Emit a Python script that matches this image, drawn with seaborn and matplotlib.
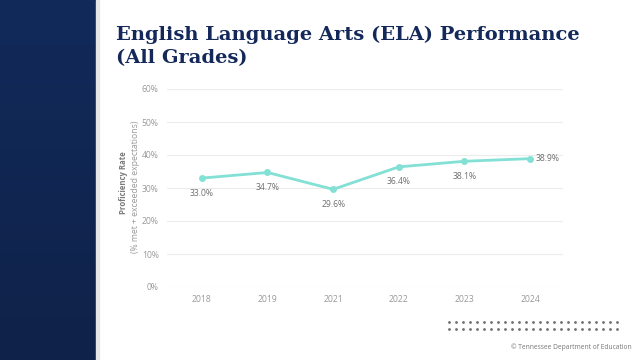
import numpy as np
import pandas as pd
import seaborn as sns
import matplotlib.pyplot as plt
from matplotlib.patches import Rectangle

# chart values
years = ["2018", "2019", "2021", "2022", "2023", "2024"]
rates = [33.0, 34.7, 29.6, 36.4, 38.1, 38.9]
label_side = ["below", "below", "below", "below", "below", "right"]
yticks = [0, 10, 20, 30, 40, 50, 60]

df = pd.DataFrame({"year": years, "rate": rates})

sns.set_theme(style="white")
plt.rcParams["font.family"] = ["Open Sans", "DejaVu Sans"]

fig = plt.figure(figsize=(6.4, 3.6), dpi=100)
fig.patch.set_facecolor("white")

# navy band on the left, slightly darker toward the bottom
bg = fig.add_axes([0, 0, 96 / 640, 1])
grad = np.linspace(0, 1, 256).reshape(-1, 1)
bg.imshow(grad, aspect="auto", extent=[0, 1, 0, 1], origin="upper",
          cmap=plt.matplotlib.colors.LinearSegmentedColormap.from_list(
              "navy", ["#122a5a", "#0f2249"]))
bg.set_axis_off()
fig.patches.append(Rectangle((96 / 640, 0), 3 / 640, 1, transform=fig.transFigure,
                             color="#e6e6e6", zorder=0))

# title
fig.text(116 / 640, 1 - 63 / 360, "English Language Arts (ELA) Performance\n(All Grades)",
         family="DejaVu Serif", weight="bold", fontsize=14, color="#14295a",
         ha="left", va="baseline", linespacing=1.38)

ax = fig.add_axes([167 / 640, 1 - 287 / 360, (563 - 167) / 640, (287 - 89) / 360])
sns.lineplot(data=df, x="year", y="rate", ax=ax, color="#82e0d4", linewidth=2,
             marker="o", markersize=5, markeredgewidth=0, sort=False)

for i, (v, side) in enumerate(zip(rates, label_side)):
    if side == "below":
        ax.annotate(f"{v:.1f}%", (i, v), xytext=(0, -7.5), textcoords="offset points",
                    ha="center", va="top", fontsize=6.2, color="#707070")
    else:
        ax.annotate(f"{v:.1f}%", (i, v), xytext=(4, 0), textcoords="offset points",
                    ha="left", va="center", fontsize=6.2, color="#707070")

ax.set_ylim(0, 60)
ax.set_xlim(-0.53, 5.5)
ax.set_yticks(yticks)
ax.set_yticklabels([f"{t}%" for t in yticks])
ax.grid(axis="y", color="#ececec", linewidth=0.8)
ax.grid(axis="x", visible=False)
for s in ax.spines.values():
    s.set_visible(False)
ax.tick_params(axis="both", length=0, labelsize=6.2, labelcolor="#999999", pad=6)
ax.set_xlabel("")
ax.set_ylabel("")

fig.text(124 / 640, 1 - 183 / 360, "Proficiency Rate", rotation=90, fontsize=5.6,
         weight="bold", color="#7a7a7a", ha="center", va="center")
fig.text(136 / 640, 1 - 187 / 360, "(% met + exceeded expectations)", rotation=90,
         fontsize=6.2, color="#9a9a9a", ha="center", va="center")

# dotted decoration
for yy in (322, 329):
    xs = np.linspace(449, 617, 25) / 640
    fig.lines.append(plt.Line2D(xs, [1 - yy / 360] * len(xs), transform=fig.transFigure,
                                linestyle="none", marker="o", markersize=1.0,
                                color="#707070"))

fig.text(632 / 640, 1 - 347 / 360, "© Tennessee Department of Education", fontsize=4.8,
         color="#777777", ha="right", va="center")

fig.savefig("out.png", dpi=100)
